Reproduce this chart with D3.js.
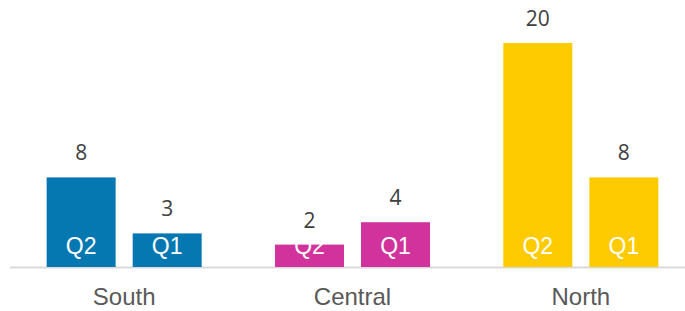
<!DOCTYPE html>
<html>
<head>
<meta charset="utf-8">
<script src="https://d3js.org/d3.v7.min.js"></script>
<style>
  body { margin: 0; background: #fff; }
</style>
</head>
<body>
<script>
// data
var regions = ["South", "Central", "North"];
var quarters = ["Q2", "Q1"];
var q2Values = [8, 2, 20];
var q1Values = [3, 4, 8];
var regionColors = ["#0578b2", "#d1329b", "#fecb00"];

var width = 685, height = 311;
var baseY = 267;

var rows = regions.map(function (r, i) {
  return { region: r, color: regionColors[i],
           bars: [{ q: "Q2", v: q2Values[i] }, { q: "Q1", v: q1Values[i] }] };
});

var svg = d3.select("body").append("svg")
  .attr("width", width)
  .attr("height", height);

var x0 = d3.scaleBand().domain(regions).range([10, 695]);
var x1 = d3.scaleBand().domain(quarters)
  .range([0, x0.bandwidth()])
  .paddingInner(0.198)
  .paddingOuter(0.426);
var y = d3.scaleLinear()
  .domain([0, d3.max(q2Values.concat(q1Values))])
  .range([baseY, 43]);

// baseline
svg.append("line")
  .attr("x1", 10).attr("x2", width)
  .attr("y1", baseY + 0.5).attr("y2", baseY + 0.5)
  .attr("stroke", "#d9d9d9")
  .attr("stroke-width", 2);

var groups = svg.selectAll("g.region")
  .data(rows)
  .enter().append("g")
  .attr("class", "region")
  .attr("transform", function (d) { return "translate(" + x0(d.region) + ",0)"; });

groups.each(function (row) {
  var g = d3.select(this);
  var bar = g.selectAll("g.bar").data(row.bars).enter().append("g");

  bar.append("rect")
    .attr("x", function (d) { return x1(d.q); })
    .attr("y", function (d) { return y(d.v); })
    .attr("width", x1.bandwidth())
    .attr("height", function (d) { return baseY - y(d.v); })
    .attr("fill", row.color);

  // value above the bar
  bar.append("text")
    .attr("x", function (d) { return x1(d.q) + x1.bandwidth() / 2; })
    .attr("y", function (d) { return y(d.v) - 17; })
    .attr("text-anchor", "middle")
    .attr("font-family", "'Open Sans', sans-serif")
    .attr("font-size", 21)
    .attr("fill", "#404040")
    .text(function (d) { return d.v; });

  // quarter name inside the bar
  bar.append("text")
    .attr("x", function (d) { return x1(d.q) + x1.bandwidth() / 2; })
    .attr("y", baseY - 13)
    .attr("text-anchor", "middle")
    .attr("font-family", "'Liberation Sans', Arial, sans-serif")
    .attr("font-size", 23)
    .attr("fill", "#ffffff")
    .text(function (d) { return d.q; });
});

// category labels
svg.selectAll("text.cat")
  .data(regions)
  .enter().append("text")
  .attr("class", "cat")
  .attr("x", function (d) { return x0(d) + x0.bandwidth() / 2; })
  .attr("y", 305)
  .attr("text-anchor", "middle")
  .attr("font-family", "'Liberation Sans', Arial, sans-serif")
  .attr("font-size", 24)
  .attr("fill", "#595959")
  .text(function (d) { return d; });
</script>
</body>
</html>
